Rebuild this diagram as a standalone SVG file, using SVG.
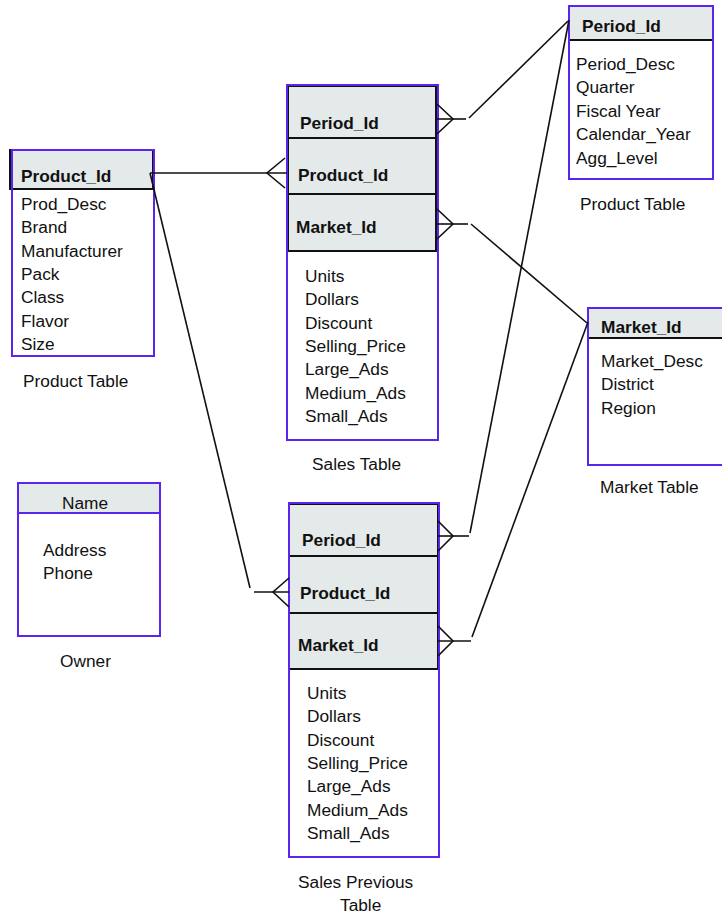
<svg xmlns="http://www.w3.org/2000/svg" width="722" height="918" viewBox="0 0 722 918">
  <style>
    .frame { fill: none; stroke: #5a25ee; stroke-width: 2; }
    .hdr { fill: #e4e9e9; stroke: #111; stroke-width: 2; }
    .hdrfill { fill: #e4e9e9; }
    .sep { stroke: #111; stroke-width: 2; }
    .psep { stroke: #5a25ee; stroke-width: 2; }
    text { font-family: "Liberation Sans", Arial, sans-serif; font-size: 17.3px; fill: #111; }
    .key { font-weight: bold; }
    .conn line, .conn polyline { stroke: #111; stroke-width: 1.6; fill: none; }
  </style>

  <!-- Product table -->
  <g id="product">
    <rect class="hdr" x="10" y="150" width="143" height="39"/>
    <rect class="frame" x="12" y="150" width="142" height="206"/>
    <text class="key" x="21" y="182">Product_Id</text>
    <text x="21" y="210">Prod_Desc</text>
    <text x="21" y="233">Brand</text>
    <text x="21" y="257">Manufacturer</text>
    <text x="21" y="280">Pack</text>
    <text x="21" y="303">Class</text>
    <text x="21" y="327">Flavor</text>
    <text x="21" y="350">Size</text>
    <text x="23" y="387">Product Table</text>
  </g>

  <!-- Sales table -->
  <g id="sales">
    <rect class="hdr" x="288" y="86" width="148" height="165"/>
    <line class="sep" x1="288" y1="138" x2="436" y2="138"/>
    <line class="sep" x1="288" y1="194" x2="436" y2="194"/>
    <rect class="frame" x="287" y="85" width="151" height="355"/>
    <text class="key" x="300" y="129">Period_Id</text>
    <text class="key" x="298" y="181">Product_Id</text>
    <text class="key" x="296" y="233">Market_Id</text>
    <text x="305" y="282">Units</text>
    <text x="305" y="305">Dollars</text>
    <text x="305" y="329">Discount</text>
    <text x="305" y="352">Selling_Price</text>
    <text x="305" y="375">Large_Ads</text>
    <text x="305" y="399">Medium_Ads</text>
    <text x="305" y="422">Small_Ads</text>
    <text x="312" y="470">Sales Table</text>
  </g>

  <!-- Period table -->
  <g id="period">
    <rect class="hdrfill" x="570" y="6" width="143" height="34"/>
    <line class="sep" x1="570" y1="40" x2="713" y2="40"/>
    <rect class="frame" x="569" y="6" width="144" height="173"/>
    <text class="key" x="582" y="32">Period_Id</text>
    <text x="576" y="70">Period_Desc</text>
    <text x="576" y="93">Quarter</text>
    <text x="576" y="117">Fiscal Year</text>
    <text x="576" y="140">Calendar_Year</text>
    <text x="576" y="164">Agg_Level</text>
    <text x="580" y="210">Product Table</text>
  </g>

  <!-- Market table -->
  <g id="market">
    <rect class="hdrfill" x="589" y="309" width="140" height="29"/>
    <line class="sep" x1="589" y1="338" x2="729" y2="338"/>
    <rect class="frame" x="588" y="308" width="140" height="157"/>
    <text class="key" x="601" y="333">Market_Id</text>
    <text x="601" y="367">Market_Desc</text>
    <text x="601" y="390">District</text>
    <text x="601" y="414">Region</text>
    <text x="600" y="493">Market Table</text>
  </g>

  <!-- Owner table -->
  <g id="owner">
    <rect class="hdrfill" x="18" y="483" width="142" height="30"/>
    <line class="psep" x1="18" y1="513" x2="160" y2="513"/>
    <rect class="frame" x="18" y="483" width="142" height="153"/>
    <text x="62" y="509">Name</text>
    <text x="43" y="556">Address</text>
    <text x="43" y="579">Phone</text>
    <text x="60" y="667">Owner</text>
  </g>

  <!-- Sales Previous table -->
  <g id="sales-previous">
    <rect class="hdr" x="289" y="504" width="149" height="165"/>
    <line class="sep" x1="289" y1="556" x2="438" y2="556"/>
    <line class="sep" x1="289" y1="613" x2="438" y2="613"/>
    <rect class="frame" x="289" y="503" width="150" height="354"/>
    <text class="key" x="302" y="546">Period_Id</text>
    <text class="key" x="300" y="599">Product_Id</text>
    <text class="key" x="298" y="651">Market_Id</text>
    <text x="307" y="699">Units</text>
    <text x="307" y="722">Dollars</text>
    <text x="307" y="746">Discount</text>
    <text x="307" y="769">Selling_Price</text>
    <text x="307" y="792">Large_Ads</text>
    <text x="307" y="816">Medium_Ads</text>
    <text x="307" y="839">Small_Ads</text>
    <text x="298" y="888">Sales Previous</text>
    <text x="340" y="911">Table</text>
  </g>

  <!-- Relationship lines with crow's-foot ends -->
  <g id="connectors" class="conn">
    <!-- Product -> Sales -->
    <line x1="150" y1="173" x2="287" y2="173"/>
    <polyline points="285,158 267,173 285,188"/>
    <!-- Product -> Sales Previous -->
    <line x1="150" y1="173" x2="250" y2="588"/>
    <line x1="254" y1="592" x2="289" y2="592"/>
    <polyline points="289,578 273,592 289,607"/>
    <!-- Sales -> Period -->
    <line x1="437" y1="119" x2="466" y2="119"/>
    <polyline points="437,104 453,119 437,134"/>
    <line x1="469" y1="118" x2="568" y2="21"/>
    <!-- Sales -> Market -->
    <line x1="437" y1="224" x2="468" y2="224"/>
    <polyline points="437,209 453,224 437,239"/>
    <line x1="471" y1="224" x2="587" y2="323"/>
    <!-- Sales Previous -> Period -->
    <line x1="438" y1="536" x2="469" y2="536"/>
    <polyline points="438,521 453,536 438,551"/>
    <line x1="470" y1="533" x2="569" y2="20"/>
    <!-- Sales Previous -> Market -->
    <line x1="438" y1="641" x2="471" y2="641"/>
    <polyline points="438,626 453,641 438,656"/>
    <line x1="472" y1="637" x2="588" y2="322"/>
  </g>
</svg>
